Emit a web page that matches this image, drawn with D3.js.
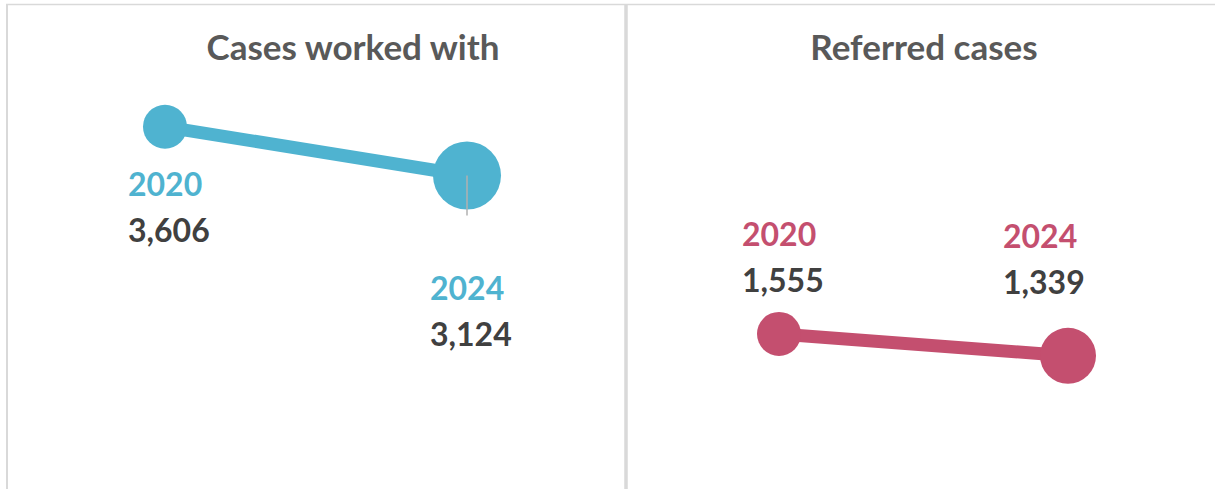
<!DOCTYPE html>
<html>
<head>
<meta charset="utf-8">
<script src="https://cdn.jsdelivr.net/npm/d3@7"></script>
<style>
  body { margin: 0; background: #fff; }
  text { font-family: Lato, "Open Sans", sans-serif; font-weight: bold; }
</style>
</head>
<body>
<script>
// data
var years = ["2020", "2024"]
var panelTitles = ["Cases worked with", "Referred cases"]
var casesWorked = [3606, 3124]
var referredCases = [1555, 1339]

function plot_it() {
	width = 1215
	height = 489
	lineWidth = 13

	var svg = d3.select('body').append('svg').attr('width', width).attr('height', height)

	// frame: top line, left edge, divider between the panels
	svg.append('line').attr('x1', 6).attr('x2', 1215).attr('y1', 4.5).attr('y2', 4.5)
		.attr('stroke', '#d9d9d9').attr('stroke-width', 1.5)
	svg.append('line').attr('x1', 7).attr('x2', 7).attr('y1', 4).attr('y2', height)
		.attr('stroke', '#d9d9d9').attr('stroke-width', 2)
	svg.append('line').attr('x1', 626).attr('x2', 626).attr('y1', 4).attr('y2', height)
		.attr('stroke', '#d9d9d9').attr('stroke-width', 3.5)

	// one y scale shared by both panels
	var y = d3.scaleLinear().domain([0, 4000]).range([491, 87])
	var fmt = d3.format(',')

	var panels = [
		{title: panelTitles[0], titleX: 353, values: casesWorked, color: '#4fb3d0',
		 x: d3.scalePoint().domain(years).range([165, 467]), radius: [22, 34],
		 // label offsets from each circle centre: [dx, dy of year baseline]
		 labels: [[-37, 69], [-37, 125]], tick: true},
		{title: panelTitles[1], titleX: 924, values: referredCases, color: '#c44f6f',
		 x: d3.scalePoint().domain(years).range([779, 1068]), radius: [22, 28],
		 labels: [[-37, -88], [-65, -108]], tick: false}
	]

	panels.forEach(function(p, i) {
		var g = svg.append('g').attr('id', 'panel' + i)
		var pts = years.map(function(yr, j) { return {year: yr, value: p.values[j], r: p.radius[j], lab: p.labels[j]} })

		g.append('text').attr('x', p.titleX).attr('y', 60).attr('text-anchor', 'middle')
			.attr('fill', '#595959').style('font-size', '35px').text(p.title)

		g.append('path').datum(pts)
			.attr('d', d3.line().x(function(d) { return p.x(d.year) }).y(function(d) { return y(d.value) }))
			.attr('stroke', p.color).attr('stroke-width', lineWidth).attr('fill', 'none')

		g.selectAll('circle').data(pts).enter().append('circle')
			.attr('cx', function(d) { return p.x(d.year) })
			.attr('cy', function(d) { return y(d.value) })
			.attr('r', function(d) { return d.r })
			.attr('fill', p.color)

		// small grey tick under the big 2024 bubble
		if (p.tick) {
			var last = pts[pts.length - 1]
			g.append('line').attr('x1', p.x(last.year)).attr('x2', p.x(last.year))
				.attr('y1', y(last.value)).attr('y2', y(last.value) + 40)
				.attr('stroke', '#b0b0b0').attr('stroke-width', 1.5)
		}

		var lab = g.selectAll('.lab').data(pts).enter().append('g').attr('class', 'lab')
			.attr('transform', function(d) { return 'translate(' + (p.x(d.year) + d.lab[0]) + ',' + (y(d.value) + d.lab[1]) + ')' })
		lab.append('text').attr('fill', p.color).style('font-size', '32px').text(function(d) { return d.year })
		lab.append('text').attr('y', 46).attr('fill', '#404040').style('font-size', '32px').text(function(d) { return fmt(d.value) })
	})
}
plot_it()
</script>
</body>
</html>
